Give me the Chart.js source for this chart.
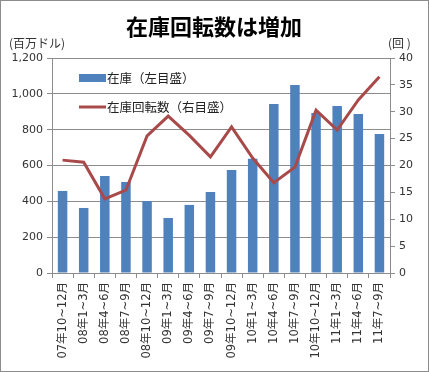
<!DOCTYPE html>
<html>
<head>
<meta charset="utf-8">
<script src="https://cdn.jsdelivr.net/npm/chart.js@4"></script>
<style>
  html, body { margin: 0; padding: 0; background: #fff; }
  #wrap { position: relative; width: 429px; height: 372px; }
</style>
</head>
<body>
<div id="wrap"><canvas id="c" width="429" height="372"></canvas></div>
<script>
// 四半期ラベル
const quarters = [
  '07年10~12月', '08年1~3月', '08年4~6月', '08年7~9月', '08年10~12月',
  '09年1~3月', '09年4~6月', '09年7~9月', '09年10~12月',
  '10年1~3月', '10年4~6月', '10年7~9月', '10年10~12月',
  '11年1~3月', '11年4~6月', '11年7~9月'
];
// 在庫（百万ドル）
const inventory = [458, 363, 541, 508, 402, 307, 380, 452, 575, 638, 943, 1050, 893, 932, 887, 776];
// 在庫回転数（回）
const turnover = [21.0, 20.6, 13.8, 15.4, 25.5, 29.2, 25.6, 21.6, 27.2, 21.4, 16.8, 19.7, 30.3, 26.6, 32.2, 36.5];

const FONT = "'Noto Sans CJK JP', 'Noto Sans', sans-serif";
const NUMFONT = "'DejaVu Sans', 'Noto Sans CJK JP', sans-serif";

// タイトル・単位・凡例・枠
const decor = {
  id: 'decor',
  afterDraw(chart) {
    const ctx = chart.ctx;
    ctx.save();
    ctx.strokeStyle = '#8c8c8c';
    ctx.lineWidth = 1;
    ctx.strokeRect(0.5, 0.5, chart.width - 1, chart.height - 1);

    ctx.fillStyle = '#000';
    ctx.textAlign = 'center';
    ctx.textBaseline = 'middle';
    ctx.font = 'bold 22px ' + FONT;
    ctx.fillText('在庫回転数は増加', 214, 27);

    ctx.font = '12px ' + FONT;
    ctx.fillStyle = '#333';
    ctx.textAlign = 'left';
    ctx.fillText('(百万ドル)', 9, 43);
    ctx.fillText('(回 )', 388, 43);

    // 凡例
    ctx.fillStyle = '#4F81BD';
    ctx.fillRect(79, 74, 27, 8);
    ctx.strokeStyle = '#A94A4A';
    ctx.lineWidth = 3;
    ctx.beginPath();
    ctx.moveTo(79, 107);
    ctx.lineTo(106, 107);
    ctx.stroke();
    ctx.fillStyle = '#222';
    ctx.font = '12.5px ' + FONT;
    ctx.fillText('在庫（左目盛）', 107, 78);
    ctx.fillText('在庫回転数（右目盛）', 107, 107);
    ctx.restore();
  }
};

new Chart(document.getElementById('c'), {
  data: {
    labels: quarters,
    datasets: [
      {
        type: 'line',
        label: '在庫回転数（右目盛）',
        data: turnover,
        yAxisID: 'y1',
        borderColor: '#A94A4A',
        borderWidth: 3,
        pointRadius: 0,
        tension: 0,
        order: 0
      },
      {
        type: 'bar',
        label: '在庫（左目盛）',
        data: inventory,
        yAxisID: 'y',
        backgroundColor: '#4F81BD',
        barPercentage: 0.45,
        categoryPercentage: 1.0,
        order: 1
      }
    ]
  },
  options: {
    responsive: false,
    animation: false,
    layout: { padding: { top: 58, left: 0, right: 0, bottom: 0 } },
    plugins: {
      legend: { display: false },
      title: { display: false },
      tooltip: { enabled: false }
    },
    scales: {
      x: {
        offset: true,
        grid: { display: true, drawOnChartArea: false, offset: true, tickLength: 5, color: '#8c8c8c' },
        border: { color: '#8c8c8c' },
        ticks: {
          minRotation: 90, maxRotation: 90, autoSkip: false,
          color: '#333', font: { family: NUMFONT, size: 11.5 }, padding: 4
        },
        afterFit(s) { s.height = 99; }
      },
      y: {
        position: 'left',
        min: 0, max: 1200,
        ticks: {
          stepSize: 200, color: '#333', font: { family: NUMFONT, size: 11 }, padding: 4,
          callback: v => v.toLocaleString('en-US')
        },
        grid: { color: '#8c8c8c', tickLength: 5 },
        border: { color: '#8c8c8c' },
        afterFit(s) { s.width = 52; }
      },
      y1: {
        position: 'right',
        min: 0, max: 40,
        ticks: { stepSize: 5, color: '#333', font: { family: NUMFONT, size: 11 }, padding: 4 },
        grid: { drawOnChartArea: false, color: '#8c8c8c', tickLength: 5 },
        border: { color: '#8c8c8c' },
        afterFit(s) { s.width = 39; }
      }
    }
  },
  plugins: [decor]
});
</script>
</body>
</html>
